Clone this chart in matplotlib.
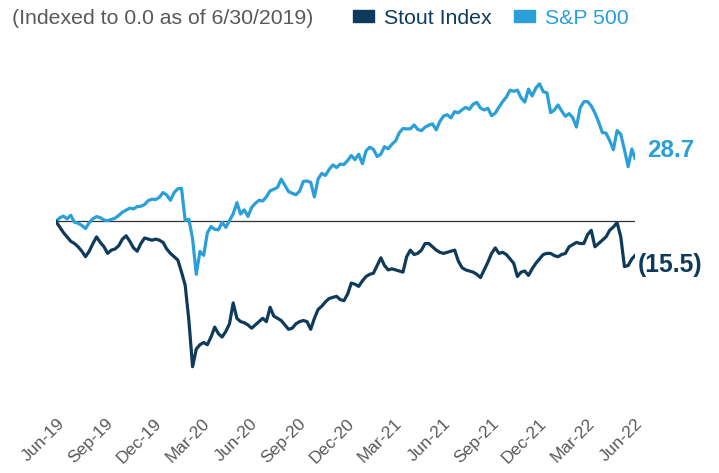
import matplotlib
matplotlib.use("Agg")
import matplotlib.pyplot as plt
from matplotlib.patches import Patch
import pandas as pd

plt.rcParams['font.family'] = ['Liberation Sans', 'DejaVu Sans']

# Weekly observations (Fridays) from 6/28/2019, plus final 6/30/2022
dates = list(pd.date_range('2019-06-28', '2022-06-24', freq='W-FRI')) + [pd.Timestamp('2022-06-30')]

sp500 = [
    0.0, 1.65, 2.45, 1.18, 2.86, -0.33, -0.79, -1.80, -3.22, -0.52,
    1.26, 2.23, 1.71, 0.68, 0.35, 0.97, 1.51, 2.75, 4.25, 5.14,
    6.07, 5.73, 6.77, 6.94, 7.72, 9.50, 10.14, 9.96, 11.00, 13.18,
    12.02, 9.65, 13.12, 14.90, 15.10, 0.42, 1.04, -7.84, -24.0, -13.61,
    -15.40, -5.16, -2.28, -3.57, -3.77, -0.41, -2.65, 0.47, 3.49, 8.57,
    3.38, 5.30, 2.29, 6.40, 8.27, 9.62, 9.31, 11.20, 13.92, 14.65,
    15.48, 19.25, 16.49, 13.57, 12.84, 12.13, 13.82, 18.20, 18.43, 17.80,
    11.16, 19.30, 21.87, 20.93, 23.68, 25.75, 24.53, 26.09, 25.88, 27.68,
    30.01, 28.10, 30.58, 26.26, 32.13, 33.76, 32.80, 29.55, 30.60, 34.05,
    33.02, 35.11, 36.65, 40.35, 42.28, 42.10, 42.13, 43.88, 41.88, 41.27,
    42.91, 43.79, 44.38, 41.63, 45.52, 47.95, 48.54, 47.09, 49.97, 49.41,
    50.81, 51.88, 50.99, 53.29, 54.17, 51.56, 50.69, 51.46, 48.11, 49.28,
    52.00, 54.50, 56.55, 59.68, 59.19, 59.70, 56.19, 54.28, 60.18, 57.07,
    60.65, 62.60, 58.99, 58.51, 49.50, 50.65, 52.99, 50.20, 47.83, 49.05,
    47.15, 42.92, 51.72, 54.43, 54.53, 52.57, 49.32, 45.21, 40.46, 40.17,
    36.79, 32.62, 41.35, 39.66, 32.60, 24.92, 32.97, 28.68,
]

stout = [
    0.0, -2.5, -5.0, -7.0, -9.0, -10.0, -11.5, -13.5, -16.0, -13.5,
    -10.0, -7.0, -9.5, -11.5, -14.5, -13.0, -12.5, -11.0, -8.0, -6.5,
    -9.0, -12.0, -13.5, -10.0, -7.5, -8.0, -8.5, -8.0, -8.5, -9.5,
    -12.5, -14.5, -16.0, -17.5, -23.0, -29.0, -45.0, -66.0, -58.0, -56.0,
    -55.0, -56.0, -52.5, -48.0, -51.0, -52.5, -50.0, -46.5, -37.0, -44.0,
    -45.5, -46.0, -47.0, -48.5, -47.0, -45.5, -44.0, -45.5, -39.0, -43.0,
    -44.0, -45.0, -47.0, -49.0, -48.5, -46.5, -45.5, -45.0, -45.5, -49.0,
    -44.0, -40.0, -38.5, -36.5, -35.0, -34.5, -34.0, -35.5, -36.0, -33.0,
    -28.0, -28.5, -29.5, -27.0, -25.0, -24.0, -23.5, -20.0, -16.5, -20.0,
    -22.0, -21.5, -22.0, -22.5, -23.0, -16.0, -13.0, -15.0, -14.5, -13.0,
    -10.0, -10.0, -11.5, -13.0, -14.0, -14.5, -14.0, -13.5, -13.0, -18.0,
    -21.0, -22.0, -22.5, -23.0, -24.0, -25.5, -22.0, -18.5, -14.5, -12.0,
    -14.5, -14.0, -15.0, -17.0, -19.0, -25.0, -23.0, -22.5, -24.5, -21.5,
    -19.0, -17.0, -15.0, -14.5, -14.5, -15.5, -16.0, -15.0, -14.5, -11.5,
    -10.5, -9.5, -10.0, -10.0, -6.0, -4.0, -11.5, -10.0, -8.5, -7.0,
    -4.0, -2.5, -0.5, -7.0, -20.5, -20.0, -17.0, -15.5,
]

tick_dates = [pd.Timestamp(y, m, 30) for y, m in
              [(2019, 6), (2019, 9), (2019, 12), (2020, 3), (2020, 6), (2020, 9), (2020, 12),
               (2021, 3), (2021, 6), (2021, 9), (2021, 12), (2022, 3), (2022, 6)]]
tick_labels = ['Jun-19', 'Sep-19', 'Dec-19', 'Mar-20', 'Jun-20', 'Sep-20', 'Dec-20',
               'Mar-21', 'Jun-21', 'Sep-21', 'Dec-21', 'Mar-22', 'Jun-22']

navy = '#0E3A5B'
blue = '#2A9FD8'
gray = '#595959'

W, H = 719, 473
fig = plt.figure(figsize=(W / 100, H / 100), dpi=100)
ymin, ymax = -70, 68
y0_px = 221.5
ppu = 2.2
top_px = y0_px - ppu * ymax
bot_px = y0_px - ppu * ymin
left_px, right_px = 56, 635
ax = fig.add_axes([left_px / W, 1 - bot_px / H, (right_px - left_px) / W, (bot_px - top_px) / H])

ax.plot(dates, sp500, color=blue, lw=2.3, solid_joinstyle='round')
ax.plot(dates, stout, color=navy, lw=2.3, solid_joinstyle='round')
ax.axhline(0, color='#333333', lw=0.9, zorder=0)

ax.set_xlim(pd.Timestamp('2019-06-28'), pd.Timestamp('2022-06-30'))
ax.set_ylim(ymin, ymax)
for s in ax.spines.values():
    s.set_visible(False)
ax.set_yticks([])
ax.set_xticks(tick_dates)
ax.set_xticklabels(tick_labels, rotation=45, ha='right', va='top',
                   rotation_mode='anchor', color=gray, fontsize=12.5)
ax.tick_params(axis='x', length=0, pad=29)

# end labels
ax.annotate(f'{sp500[-1]:.1f}', xy=(dates[-1], sp500[-1]), xytext=(9, 6),
            textcoords='offset points', color=blue, fontsize=17.5, fontweight='bold',
            ha='left', va='center', annotation_clip=False)
ax.annotate(f'({abs(stout[-1]):.1f})', xy=(dates[-1], stout[-1]), xytext=(2, -7),
            textcoords='offset points', color=navy, fontsize=17.8, fontweight='bold',
            ha='left', va='center', annotation_clip=False)

fig.text(12 / W, 1 - 18 / H, '(Indexed to 0.0 as of 6/30/2019)', color=gray,
         fontsize=15.3, ha='left', va='center')
handles = [Patch(color=navy), Patch(color=blue)]
fig.legend(handles, ['Stout Index', 'S&P 500'], loc='center left',
           bbox_to_anchor=(353 / W, 1 - 18 / H), ncol=2, frameon=False,
           fontsize=15.3, labelcolor=[navy, blue], handlelength=1.0, handleheight=0.55,
           handletextpad=0.45, columnspacing=1.05, borderaxespad=0, borderpad=0)

fig.savefig('out.png', dpi=100)
